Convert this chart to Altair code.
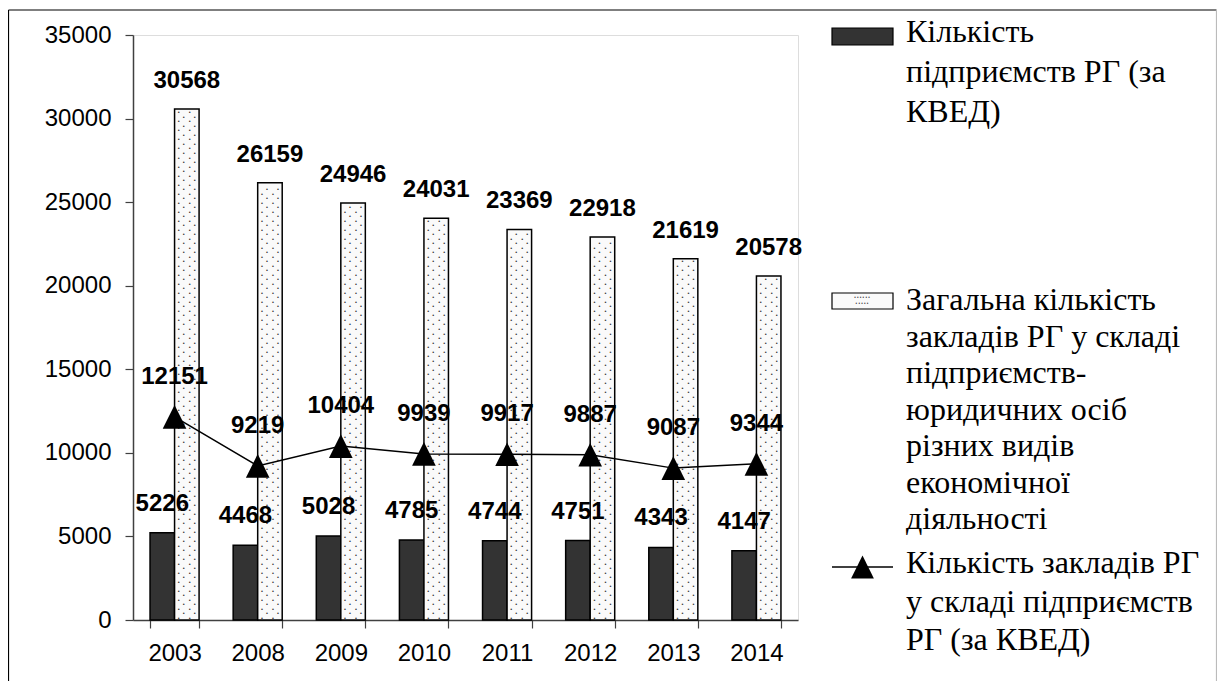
import altair as alt
import pandas as pd

# ---- data ----
years = ["2003", "2008", "2009", "2010", "2011", "2012", "2013", "2014"]
enterprises = [5226, 4468, 5028, 4785, 4744, 4751, 4343, 4147]          # dark bars
total_estab = [30568, 26159, 24946, 24031, 23369, 22918, 21619, 20578]  # dotted bars
estab_kved = [12151, 9219, 10404, 9939, 9917, 9887, 9087, 9344]         # line

legend1 = ["Кількість", "підприємств РГ (за", "КВЕД)"]
legend2 = ["Загальна кількість", "закладів РГ у складі", "підприємств-",
           "юридичних осіб", "різних видів", "економічної", "діяльності"]
legend3 = ["Кількість закладів РГ", "у складі підприємств", "РГ (за КВЕД)"]

# ---- tables ----
bars_df = pd.DataFrame(
    {"year": years * 2,
     "s": ["a"] * len(years) + ["b"] * len(years),
     "value": enterprises + total_estab}
)
dark_df = pd.DataFrame({"year": years, "s": "a", "value": enterprises})
dot_df = pd.DataFrame({"year": years, "s": "b", "value": total_estab})
line_df = pd.DataFrame({"year": years, "value": estab_kved})

W, H = 665, 585
LABEL_FONT = "Liberation Sans, Arial, sans-serif"
SERIF = "Liberation Serif"
TRI = "M-1,1L1,1L0,-1Z"

x_enc = alt.X(
    "year:N", sort=years,
    scale=alt.Scale(paddingInner=0.41, paddingOuter=0.205),
    axis=alt.Axis(title=None, labelAngle=0, tickBand="extent", tickSize=8,
                  labelPadding=13, labelFont=LABEL_FONT, labelFontSize=24,
                  labelColor="black", domainColor="#404040", tickColor="#404040",
                  domainWidth=1.5, tickWidth=1.2),
)
y_enc = alt.Y(
    "value:Q",
    scale=alt.Scale(domain=[0, 35000], nice=False),
    axis=alt.Axis(title=None, values=list(range(0, 35001, 5000)), grid=False,
                  format="d", tickSize=8, labelPadding=14, labelFont=LABEL_FONT,
                  labelFontSize=24, labelColor="black", domainColor="#404040",
                  tickColor="#404040", domainWidth=1.5, tickWidth=1.2),
)
xoff = alt.XOffset("s:N", scale=alt.Scale(domain=["a", "b"]))

bars = alt.Chart(bars_df).mark_bar(stroke="black", strokeWidth=1.5).encode(
    x=x_enc, y=y_enc, xOffset=xoff,
    fill=alt.Fill("s:N", scale=alt.Scale(domain=["a", "b"], range=["#333333", "#fafafa"]),
                  legend=None),
)

# dotted pattern inside the second bars
dot_layers = []
for parity, dx in [(0, -8), (0, 3), (1, -3), (1, 8)]:
    dot_layers.append(
        alt.Chart(dot_df).transform_calculate(
            seq="sequence(130, datum.value - 120, 270)"
        ).transform_flatten(["seq"]).transform_calculate(
            par="floor(datum.seq / 270) % 2"
        ).transform_filter(f"datum.par == {parity}").mark_text(
            text="•", fontSize=5.5, color="#333333", dx=dx, baseline="middle"
        ).encode(x=alt.X("year:N", sort=years), y=alt.Y("seq:Q"), xOffset=xoff)
    )

line = alt.Chart(line_df).mark_line(color="black", strokeWidth=1.5).encode(
    x=alt.X("year:N", sort=years), y=alt.Y("value:Q"))
points = alt.Chart(line_df).mark_point(
    shape=TRI, size=560, filled=True, color="black", opacity=1
).encode(x=alt.X("year:N", sort=years), y=alt.Y("value:Q"))

lab_style = dict(font=LABEL_FONT, fontSize=24, fontWeight="bold", color="black",
                 baseline="middle", align="center")
dark_labels = alt.Chart(dark_df).mark_text(dy=-29, **lab_style).encode(
    x=alt.X("year:N", sort=years), y=alt.Y("value:Q"), xOffset=xoff,
    text=alt.Text("value:Q", format="d"))
dot_labels = alt.Chart(dot_df).mark_text(dy=-28, **lab_style).encode(
    x=alt.X("year:N", sort=years), y=alt.Y("value:Q"), xOffset=xoff,
    text=alt.Text("value:Q", format="d"))
line_labels = alt.Chart(line_df).mark_text(dy=-40, **lab_style).encode(
    x=alt.X("year:N", sort=years), y=alt.Y("value:Q"),
    text=alt.Text("value:Q", format="d"))

# ---- custom legend ----
one = alt.Chart(pd.DataFrame({"k": [0]}))
leg_dark = one.mark_rect(fill="#333333", stroke="black", strokeWidth=1.2).encode(
    x=alt.value(699), x2=alt.value(760), y=alt.value(-7), y2=alt.value(10))
leg_dot = one.mark_rect(fill="#fafafa", stroke="black", strokeWidth=1.2).encode(
    x=alt.value(699), x2=alt.value(760), y=alt.value(258), y2=alt.value(274))
leg_dot_a = one.mark_text(text="•     •     •     •     •     •", fontSize=4.5,
                          color="#444444", align="center", baseline="middle").encode(
    x=alt.value(729), y=alt.value(263))
leg_dot_b = one.mark_text(text="•     •     •     •     •", fontSize=4.5,
                          color="#444444", align="center", baseline="middle").encode(
    x=alt.value(729), y=alt.value(269))
leg_line = one.mark_rule(color="black", strokeWidth=1.5).encode(
    x=alt.value(699), x2=alt.value(760), y=alt.value(532))
leg_tri = one.mark_point(shape=TRI, size=520, filled=True, color="black", opacity=1).encode(
    x=alt.value(729.5), y=alt.value(532))


def legend_text(lines, y0, lh):
    df = pd.DataFrame({"t": lines, "i": list(range(len(lines)))})
    return alt.Chart(df).transform_calculate(
        yy=f"{y0} + datum.i * {lh}"
    ).mark_text(font=SERIF, fontSize=32, color="black", align="left",
                baseline="alphabetic").encode(
        x=alt.value(773), y=alt.Y("yy:Q", scale=None), text="t:N")


leg_t1 = legend_text(legend1, 7, 40)
leg_t2 = legend_text(legend2, 275, 36.5)
leg_t3 = legend_text(legend3, 538, 38.5)

# ---- outer frame ----
frame_l = one.mark_rule(color="black", strokeWidth=1.2).encode(
    x=alt.value(-124.5), y=alt.value(-25), y2=alt.value(700))
frame_t = one.mark_rule(color="black", strokeWidth=1.2).encode(
    x=alt.value(-124.5), x2=alt.value(1083.5), y=alt.value(-25))
frame_r = one.mark_rule(color="#bbbbbb", strokeWidth=1.2).encode(
    x=alt.value(1083.5), y=alt.value(-25), y2=alt.value(700))

chart = alt.layer(
    bars, *dot_layers, line, points, dark_labels, dot_labels, line_labels,
    leg_dark, leg_dot, leg_dot_a, leg_dot_b, leg_line, leg_tri,
    leg_t1, leg_t2, leg_t3, frame_l, frame_t, frame_r,
).properties(
    width=W, height=H,
    autosize=alt.AutoSizeParams(type="none"),
    padding={"left": 125, "top": 27, "right": 419, "bottom": 61},
).configure_view(stroke="#a0a0a0", strokeWidth=1.2).configure(background="white")

chart.save("out.html", embed_options={"renderer": "svg", "actions": False})
